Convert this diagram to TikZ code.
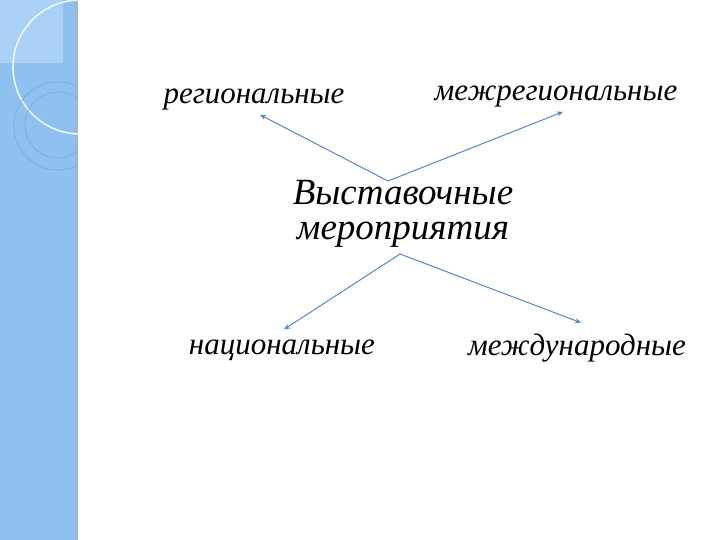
\documentclass[tikz,border=0pt]{standalone}
\usepackage{fontspec}
\setmainfont{Liberation Serif}
\usetikzlibrary{arrows.meta,calc}
\definecolor{barblue}{RGB}{142,192,240}
\definecolor{baredge}{RGB}{150,186,222}
\definecolor{barlight}{RGB}{170,208,245}
\definecolor{ringblue}{RGB}{120,168,220}
\definecolor{linkblue}{RGB}{84,136,196}
\tikzset{
  word/.style={font=\itshape\fontsize{31}{36}\selectfont, inner sep=1pt, align=center},
  bigword/.style={word, font=\itshape\fontsize{37}{35}\selectfont},
  link/.style={draw=linkblue, line width=1pt, -{Stealth[length=6pt,width=5pt]}}
}

\begin{document}
\begin{tikzpicture}[x=1pt,y=-1pt]
	\useasboundingbox (0,0) rectangle (720,540);
	\fill[white] (0,0) rectangle (720,540);

	% left band with rings
	\fill[barblue] (0,0) rectangle (74,540);
	\fill[baredge] (74,0) rectangle (78,540);
	\begin{scope}
		\clip (0,0) rectangle (78,540);
		\fill[barlight] (0,0) rectangle (63,63);
		\draw[white!85!barblue, line width=1.6pt] (80,67) circle (67);
		\draw[ringblue, line width=0.6pt] (58,126) circle (44);
		\draw[ringblue, line width=0.6pt] (58,125) circle (33);
	\end{scope}

	% words
	\node[word] (reg) at (254,99) {региональные};
	\node[word] (mezh) at (556,96) {межрегиональные};
	\node[bigword] (vyst) at (403,214) {Выставочные\\мероприятия};
	\node[word] (nac) at (282,350) {национальные};
	\node[word] (intl) at (577,348) {международные};

	% arrows
	\coordinate (up) at (388,181);
	\coordinate (down) at (400,254);
	\draw[link] (up) -- ($(reg.south)+(6,4)$);
	\draw[link] (up) -- ($(mezh.south)+(7,4)$);
	\draw[link] (down) -- ($(nac.north)+(2,-9)$);
	\draw[link] (down) -- ($(intl.north)+(4,-10)$);
\end{tikzpicture}
\end{document}
